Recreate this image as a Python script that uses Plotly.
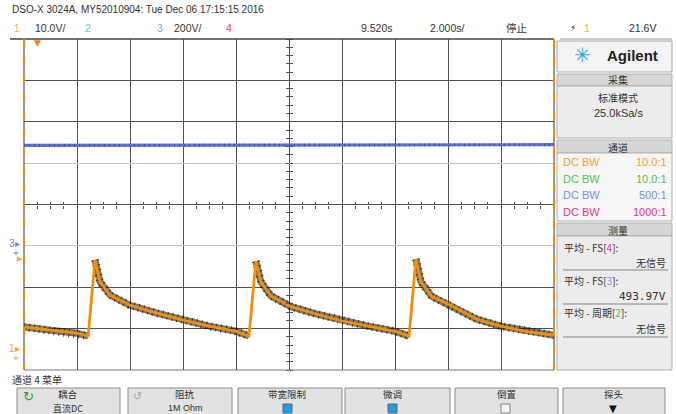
import plotly.graph_objects as go

# Channel 1 (10 V/div), time in s, voltage in V
ch1_time = [-0.48, 0.5, 1.5, 1.94, 2.20, 2.39, 2.77, 3.5, 4.5, 5.5, 6.5, 7.5, 8.01,
            8.27, 8.46, 8.84, 9.6, 10.5, 11.5, 12.5, 13.5, 14.05,
            14.31, 14.5, 14.9, 15.6, 16.6, 17.5, 18.5, 19.52]
ch1_volts = [5.1, 4.4, 3.6, 2.9, 21.3, 16.0, 12.8, 10.4, 8.5, 6.8, 5.3, 4.1, 2.9,
             21.0, 16.0, 12.6, 10.0, 8.3, 6.6, 5.3, 4.1, 2.9,
             21.5, 16.0, 12.5, 10.4, 7.0, 5.3, 4.0, 3.1]
# Channel 3 (200 V/div)
ch3_time = [-0.48, 3.0, 6.0, 9.0, 12.0, 15.0, 19.52]
ch3_volts = [472, 473, 474, 475, 474, 476, 475]

# channel side-panel rows
ch_labels = ["DC BW", "DC BW", "DC BW", "DC BW"]
ch_ratios = ["10.0:1", "10.0:1", "500:1", "1000:1"]
ch_colors = ["#f5a02a", "#55c455", "#7f8ff0", "#e8388a"]

# ---------------- geometry helpers ----------------
W, H = 676, 414
L, R, T, B = 24, 554, 39, 370
def px(x):
    return (x - L) / (R - L)
def py(y):
    return (B - y) / (B - T)

FONT = "Liberation Sans, Arial, Noto Sans CJK SC"
CJK = "Noto Sans CJK SC, Liberation Sans"

ann = []
shapes = []
def txt(x, y, s, color="#333333", size=10, anchor="left", font=FONT):
    ann.append(dict(x=px(x), y=py(y), xref="paper", yref="paper", text=s,
                    showarrow=False, xanchor=anchor, yanchor="middle",
                    font=dict(family=font, size=size, color=color)))
def rect(x0, y0, x1, y1, fill, line="rgba(0,0,0,0)", lw=1):
    shapes.append(dict(type="rect", xref="paper", yref="paper",
                       x0=px(x0), x1=px(x1), y0=py(y1), y1=py(y0),
                       fillcolor=fill, line=dict(color=line, width=lw), layer="above"))
def hline(x0, x1, y, color, lw=1, dash="solid"):
    shapes.append(dict(type="line", xref="paper", yref="paper", x0=px(x0), x1=px(x1),
                       y0=py(y), y1=py(y), line=dict(color=color, width=lw, dash=dash), layer="above"))
def vline(x, y0, y1, color, lw=1, dash="solid"):
    shapes.append(dict(type="line", xref="paper", yref="paper", x0=px(x), x1=px(x),
                       y0=py(y0), y1=py(y1), line=dict(color=color, width=lw, dash=dash), layer="above"))

# ---------------- traces ----------------
fig = go.Figure()

# noisy fringe of ch1 (skip the rising edges)
fx, fy = [], []
for i in range(len(ch1_time)):
    if i > 0 and ch1_volts[i] - ch1_volts[i - 1] > 5:
        fx.append(None); fy.append(None)
    fx.append(ch1_time[i]); fy.append(ch1_volts[i])
fig.add_trace(go.Scatter(x=fx, y=fy, mode="lines", line=dict(color="rgba(35,25,10,0.6)", width=7),
                         hoverinfo="skip", showlegend=False))
fig.add_trace(go.Scatter(x=fx, y=fy, mode="lines", line=dict(color="rgba(20,15,5,0.7)", width=8, dash="1px,4px"),
                         hoverinfo="skip", showlegend=False))
fig.add_trace(go.Scatter(x=ch1_time, y=ch1_volts, mode="lines", line=dict(color="#f0900a", width=2.8),
                         hoverinfo="skip", showlegend=False))
fig.add_trace(go.Scatter(x=ch3_time, y=ch3_volts, yaxis="y2", mode="lines",
                         line=dict(color="#5a6fe0", width=3.2), hoverinfo="skip", showlegend=False))
fig.add_trace(go.Scatter(x=ch3_time, y=ch3_volts, yaxis="y2", mode="lines",
                         line=dict(color="rgba(40,55,150,0.5)", width=3, dash="1px,4px"),
                         hoverinfo="skip", showlegend=False))
# helper traces so the centre-tick axes exist
for xa, ya in [("x2", "y"), ("x3", "y"), ("x", "y3"), ("x", "y4")]:
    fig.add_trace(go.Scatter(x=[None], y=[None], xaxis=xa, yaxis=ya, showlegend=False, hoverinfo="skip"))

XR = [-0.48, 19.52]
Y1R = [-5.3, 74.7]
Y3R = [-614, 986]
GRID = "#505050"
common = dict(showticklabels=False, zeroline=False, showline=False, fixedrange=True)

fig.update_layout(
    width=W, height=H, margin=dict(l=L, r=W - R, t=T, b=H - B),
    paper_bgcolor="white", plot_bgcolor="white",
    xaxis=dict(range=XR, tick0=-0.48, dtick=2, showgrid=True, gridcolor=GRID, gridwidth=1.3, ticks="", **common),
    xaxis2=dict(range=XR, overlaying="x", anchor="free", position=0.5, side="bottom", tick0=-0.48, dtick=0.5,
                ticks="outside", ticklen=3, tickcolor=GRID, showgrid=False, **common),
    xaxis3=dict(range=XR, overlaying="x", anchor="free", position=0.5, side="top", tick0=-0.48, dtick=0.5,
                ticks="outside", ticklen=3, tickcolor=GRID, showgrid=False, **common),
    yaxis=dict(range=Y1R, tickvals=[Y1R[0] + 10 * k for k in (1, 2, 4, 6, 7)], showgrid=True,
               gridcolor=GRID, gridwidth=1.3, ticks="", **common),
    yaxis2=dict(range=Y3R, overlaying="y", side="right", tickvals=[Y3R[0] + 200 * k for k in (3, 5)],
                showgrid=True, gridcolor="#c4c4c4", gridwidth=1.3, ticks="", **common),
    yaxis3=dict(range=Y1R, overlaying="y", anchor="free", position=0.5, side="left", tick0=-5.3, dtick=2,
                ticks="outside", ticklen=3, tickcolor=GRID, showgrid=False, **common),
    yaxis4=dict(range=Y1R, overlaying="y", anchor="free", position=0.5, side="right", tick0=-5.3, dtick=2,
                ticks="outside", ticklen=3, tickcolor=GRID, showgrid=False, **common),
)

# ---------------- frame ----------------
hline(10, R, T, "#444444", 1.5)
hline(L, R, B, "#777777", 1.2)
vline(L, T, B, "#555555", 1.2)
vline(L, T, B, "#f08a10", 2, "dash")
vline(R, T, B, "#555555", 1.2)
vline(R, T, B, "#f08a10", 2, "dash")

# ---------------- header ----------------
txt(10, 10, "DSO-X 3024A, MY52010904: Tue Dec 06 17:15:15 2016", "#333333", 10)
txt(12, 28, "1", "#f7b55a", 10.5)
txt(33, 28, "10.0V/", "#333333", 10.5)
txt(83, 28, "2", "#7ad07a", 10.5)
txt(155, 28, "3", "#8e9cf0", 10.5)
txt(172, 28, "200V/", "#333333", 10.5)
txt(224, 28, "4", "#e8388a", 10.5)
txt(359, 28, "9.520s", "#333333", 10.5)
txt(428, 28, "2.000s/", "#333333", 10.5)
txt(504, 28, "停止", "#333333", 10.5, font=CJK)
txt(573, 28, "⚡", "#222222", 9, "center", font="DejaVu Sans")
txt(587, 28, "1", "#f7b55a", 10.5, "center")
txt(658, 28, "21.6V", "#333333", 10.5, "right")
hline(560, 672, 39, "#999999", 1)

# markers on the graticule
txt(37, 43, "▼", "#f08a10", 9, "center", font="DejaVu Sans")
txt(14, 243, "3▸", "#6f82ee", 10, "center")
txt(16, 252, "⏚", "#9aa8f3", 8, "center", font="DejaVu Sans")
txt(20, 259, "▶", "#f5a02a", 7, "center", font="DejaVu Sans")
txt(14, 348, "1▸", "#f5a02a", 10, "center")
txt(16, 357, "⏚", "#f7c07a", 8, "center", font="DejaVu Sans")

# ---------------- right panel ----------------
rect(557, 41, 672, 72, "#f3f3f3", "#a8a8a8")
txt(582, 55, "✳", "#3aa8dd", 20, "center", font="DejaVu Sans")
txt(632, 55, "<b>Agilent</b>", "#222222", 15, "center", font="Liberation Sans, Arial")
rect(557, 74, 672, 86, "#d6d6d6", "#b0b0b0")
txt(618, 80, "采集", "#333333", 10, "center", font=CJK)
rect(557, 86, 672, 138, "#ececec", "#b0b0b0")
txt(618, 98, "标准模式", "#333333", 10, "center", font=CJK)
txt(618, 113, "25.0kSa/s", "#333333", 11, "center")
rect(557, 140, 672, 153, "#d6d6d6", "#b0b0b0")
txt(618, 147, "通道", "#333333", 10, "center", font=CJK)
rect(557, 153, 672, 221, "#f6f6f6", "#b0b0b0")
for i, (lab, rat, col) in enumerate(zip(ch_labels, ch_ratios, ch_colors)):
    yy = 162 + i * 16.7
    txt(561, yy, lab, col, 11)
    txt(669, yy, rat, col, 11, "right")
rect(557, 223, 672, 236, "#d6d6d6", "#b0b0b0")
txt(618, 230, "测量", "#333333", 10, "center", font=CJK)
rect(557, 236, 672, 370, "#ececec", "#b0b0b0")
txt(562, 247, '平均 - FS[<span style="color:#e8388a">4</span>]:', "#333333", 10, font=CJK)
txt(668, 262, "无信号", "#333333", 10, "right", font=CJK)
hline(563, 668, 270, "#888888", 1.2)
txt(562, 280, '平均 - FS[<span style="color:#7f8ff0">3</span>]:', "#333333", 10, font=CJK)
txt(668, 296, "493.97V", "#333333", 11, "right", font="DejaVu Sans Mono, Liberation Mono")
hline(563, 668, 304, "#888888", 1.2)
txt(562, 312, '平均 - 周期[<span style="color:#55c455">2</span>]:', "#333333", 10, font=CJK)
txt(668, 328, "无信号", "#333333", 10, "right", font=CJK)
hline(563, 668, 337, "#888888", 1.2)

# ---------------- bottom menu ----------------
txt(10, 379, "通道 4 菜单", "#333333", 10, font=CJK)
buttons = [(17, 120), (128, 232), (238, 342), (345, 450), (455, 558), (563, 665)]
for x0, x1 in buttons:
    rect(x0, 388, x1, 416, "#e2e2e2", "#8c8c8c")
txt(28, 396, "↻", "#2e9e2e", 13, "center", font="DejaVu Sans")
txt(68, 394, "耦合", "#333333", 9.5, "center", font=CJK)
txt(68, 408, "直流DC", "#333333", 9, "center", font=CJK)
txt(137, 396, "↺", "#aaaaaa", 11, "center", font="DejaVu Sans")
txt(185, 394, "阻抗", "#333333", 9.5, "center", font=CJK)
txt(185, 408, "1M Ohm", "#333333", 9, "center")
txt(287, 394, "带宽限制", "#333333", 9.5, "center", font=CJK)
rect(283, 404, 292, 413, "#1d9fe0", "#666666")
txt(392, 394, "微调", "#333333", 9.5, "center", font=CJK)
rect(388, 404, 397, 413, "#1d9fe0", "#666666")
txt(506, 394, "倒置", "#333333", 9.5, "center", font=CJK)
rect(501, 404, 510, 413, "#f4f4f4", "#888888")
txt(613, 394, "探头", "#333333", 9.5, "center", font=CJK)
txt(613, 408, "▼", "#111111", 10, "center", font="DejaVu Sans")

fig.update_layout(annotations=ann, shapes=shapes)
fig.write_html("out.html")
